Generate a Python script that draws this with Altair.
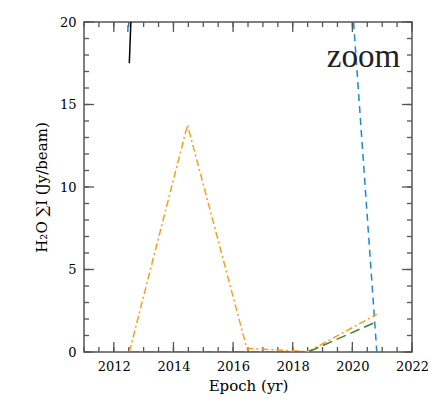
import altair as alt
import pandas as pd

# ---- data ----
epochs = [2012.52, 2014.47, 2016.46, 2018.52, 2020.82]
black_vals = [17.5, 112.0, 95.0, 80.0, 60.0]
blue_epochs = [2012.47, 2014.47, 2016.46, 2018.52, 2020.82]
blue_vals = [19.4, 150.0, 120.0, 59.0, 0.0]
orange_vals = [0.0, 13.76, 0.22, 0.03, 2.28]
green_vals = [0.0, 0.0, 0.0, 0.0, 1.84]

x_major = [2012, 2014, 2016, 2018, 2020, 2022]
x_minor = [2011 + 0.5 * i for i in range(23)]
y_major = [0, 5, 10, 15, 20]
y_minor = list(range(0, 21))

note_text = ["zoom"]
note_x = [2021.6]
note_y = [17.3]

FONT = "DejaVu Serif"
FRAME = "#555555"
W, H = 328, 330

xscale = alt.Scale(domain=[2011, 2022], nice=False, zero=False)
yscale = alt.Scale(domain=[0, 20], nice=False, zero=False)

xaxis = alt.Axis(values=x_major, format="d", title="Epoch (yr)", grid=False, ticks=False,
                 tickSize=0, domain=False, labelFont=FONT, labelFontSize=13, labelPadding=8,
                 labelFlush=False, labelOverlap=False, labelColor="black",
                 titleFont=FONT, titleFontSize=15, titleFontWeight="normal", titleColor="black",
                 titlePadding=5)
yaxis = alt.Axis(values=y_major, format="d", title="H₂O ∑I (Jy/beam)", grid=False, ticks=False,
                 tickSize=0, domain=False, labelFont=FONT, labelFontSize=13, labelPadding=8,
                 labelOverlap=False, labelColor="black",
                 titleFont=FONT, titleFontSize=15, titleFontWeight="normal", titleColor="black",
                 titlePadding=10)


def X(field):
    return alt.X(f"{field}:Q", scale=xscale, axis=xaxis)


def Y(field):
    return alt.Y(f"{field}:Q", scale=yscale, axis=yaxis)


def series(xs, vals, color, dash, width=1.5):
    df = pd.DataFrame({"epoch": xs, "flux": vals})
    mark = alt.Chart(df).mark_line(color=color, strokeWidth=width, clip=True,
                                   **({"strokeDash": dash} if dash else {}))
    return mark.encode(x=X("epoch"), y=Y("flux"))


blue = series(blue_epochs, blue_vals, "#1f88cf", [7, 5])
orange = series(epochs, orange_vals, "#ff9b1f", [7, 3, 2, 3])
green = series(epochs, green_vals, "#4a7d2c", [10, 5])
black = series(epochs, black_vals, "black", None)

dfxM = pd.DataFrame({"t": x_major})
dfxm = pd.DataFrame({"t": x_minor})
dfyM = pd.DataFrame({"t": y_major})
dfym = pd.DataFrame({"t": y_minor})

ticks = []
for df, ln in [(dfxM, 10), (dfxm, 5)]:
    base = alt.Chart(df).mark_rule(color=FRAME, strokeWidth=1.3)
    ticks.append(base.encode(x=X("t"), y=alt.value(H), y2=alt.value(H - ln)))
    ticks.append(base.encode(x=X("t"), y=alt.value(0), y2=alt.value(ln)))
for df, ln in [(dfyM, 10), (dfym, 5)]:
    base = alt.Chart(df).mark_rule(color=FRAME, strokeWidth=1.3)
    ticks.append(base.encode(y=Y("t"), x=alt.value(0), x2=alt.value(ln)))
    ticks.append(base.encode(y=Y("t"), x=alt.value(W), x2=alt.value(W - ln)))

note = alt.Chart(pd.DataFrame({"x": note_x, "y": note_y, "label": note_text})).mark_text(
    font="Liberation Serif", fontSize=33, align="right", baseline="alphabetic", color="#222222"
).encode(x=X("x"), y=Y("y"), text="label:N")

chart = alt.layer(*ticks, black, blue, orange, green, note).properties(
    width=W, height=H,
    autosize=alt.AutoSizeParams(type="none"),
    padding={"left": 76, "top": 14, "right": 16, "bottom": 46},
).configure_view(stroke=FRAME, strokeWidth=1.5)

chart.save("out.html", embed_options={"renderer": "svg", "actions": False})
